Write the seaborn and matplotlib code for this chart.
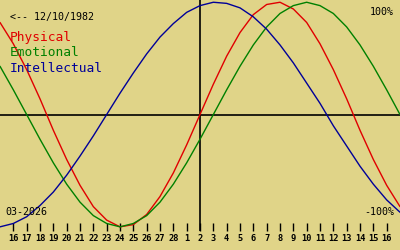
import matplotlib
matplotlib.use("Agg")
import matplotlib.pyplot as plt
import seaborn as sns
import pandas as pd

# Days from Feb 15 (0) to Mar 17 (30), today = Mar 2 (day 15)
days = list(range(31))
tick_days = list(range(1, 30))
tick_labels = ["16", "17", "18", "19", "20", "21", "22", "23", "24", "25", "26", "27", "28",
               "1", "2", "3", "4", "5", "6", "7", "8", "9", "10", "11", "12", "13", "14", "15", "16"]

physical = [82, 63, 40, 14, -14, -40, -63, -82, -94, -100, -98, -89, -73, -52, -27, 0,
            27, 52, 73, 89, 98, 100, 94, 82, 63, 40, 14, -14, -40, -63, -82]
emotional = [43, 22, 0, -22, -43, -62, -78, -90, -97, -100, -97, -90, -78, -62, -43, -22,
             0, 22, 43, 62, 78, 90, 97, 100, 97, 90, 78, 62, 43, 22, 0]
intellectual = [-100, -97, -91, -81, -69, -54, -37, -19, 0, 19, 37, 54, 69, 81, 91, 97,
                100, 99, 95, 87, 76, 62, 46, 28, 10, -10, -28, -46, -62, -76, -87]

series_names = ["Physical", "Emotional", "Intellectual"]
line_colors = ["#e00000", "#008000", "#000098"]
text_colors = ["#e00000", "#008000", "#000098"]
birth_label = "<-- 12/10/1982"
month_label = "03-2026"

bg = "#e0d488"

df = pd.DataFrame({
    "day": days * 3,
    "value": physical + emotional + intellectual,
    "series": [series_names[0]] * 31 + [series_names[1]] * 31 + [series_names[2]] * 31,
})

sns.set_theme(style="white")
plt.rcParams["font.family"] = ["DejaVu Sans Mono", "DejaVu Sans"]

W, H = 400, 250
fig = plt.figure(figsize=(4, 2.5), dpi=100, facecolor=bg)
ax = fig.add_axes([0, 19 / H, 1, 231 / H])
ax.set_facecolor(bg)

sns.lineplot(data=df, x="day", y="value", hue="series", palette=dict(zip(series_names, line_colors)),
             linewidth=1.0, legend=False, ax=ax)

ax.axhline(0, color="black", lw=1.2, zorder=1)
ax.axvline(15, color="black", lw=1.2, zorder=1)

ax.set_xlim(0, 30)
ax.set_ylim(-103.7, 102.0)
for s in ax.spines.values():
    s.set_visible(False)
ax.set_xticks(tick_days)
ax.set_xticklabels(tick_labels)
ax.set_yticks([])
ax.set_xlabel("")
ax.set_ylabel("")
ax.tick_params(axis="x", direction="in", length=6, width=1, color="black",
               labelsize=6.2, pad=2, labelcolor="black", bottom=True)
for lab in ax.get_xticklabels():
    lab.set_fontweight("bold")


def ftext(x, y, s, **kw):
    fig.text(x / W, 1 - y / H, s, va="center", **kw)


ftext(10, 17, birth_label, fontsize=7.2, color="black", ha="left")
for i, (name, col) in enumerate(zip(series_names, text_colors)):
    ftext(10, 38 + 15 * i, name, fontsize=9.3, color=col, ha="left")
ftext(394, 12, "100%", fontsize=7.2, color="black", ha="right")
ftext(394, 212, "-100%", fontsize=7.2, color="black", ha="right")
ftext(5, 212, month_label, fontsize=7.2, color="black", ha="left")

fig.savefig("out.png", dpi=100, facecolor=bg)
